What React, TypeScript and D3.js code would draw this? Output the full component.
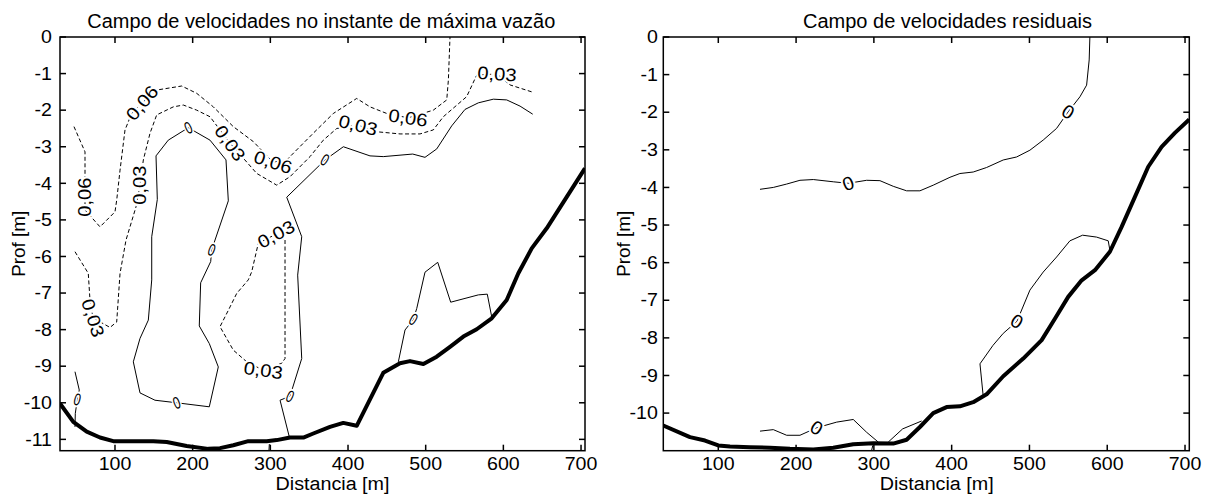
import React from 'react';
import * as d3 from 'd3';

type P = [number, number];
interface Label { text: string; x: number; y: number; angle: number }

// ---------- shared ticks / texts ----------
const xTickValues = [100, 200, 300, 400, 500, 600, 700];
const leftYTicks = [0, -1, -2, -3, -4, -5, -6, -7, -8, -9, -10, -11];
const rightYTicks = [0, -1, -2, -3, -4, -5, -6, -7, -8, -9, -10];
const leftTitle = 'Campo de velocidades no instante de máxima vazão';
const rightTitle = 'Campo de velocidades residuais';
const xLabel = 'Distancia [m]';
const yLabel = 'Prof [m]';

// ---------- left panel: max discharge ----------
const leftBed: P[] = [
  [29.2, -10.02], [46.3, -10.52], [63.6, -10.79], [80.7, -10.95], [97.8, -11.05], [149.3, -11.05],
  [166.6, -11.07], [192.3, -11.18], [220.1, -11.26], [235.2, -11.24], [252.3, -11.16], [271.6, -11.05],
  [295.3, -11.05], [308.2, -11.02], [325.3, -10.95], [342.5, -10.95], [355.3, -10.84], [376.8, -10.66],
  [393.9, -10.55], [411.2, -10.63], [445.4, -9.18], [466.9, -8.92], [479.8, -8.86], [497, -8.94],
  [514.2, -8.74], [531.3, -8.47], [548.5, -8.19], [565.7, -7.99], [585, -7.69], [604.3, -7.19],
  [619.3, -6.46], [636.5, -5.78], [655.8, -5.23], [705, -3.59],
];
const leftZeroIsland: P[] = [
  [194.4, -2.48], [168.6, -2.82], [152.8, -3.25], [154.5, -4.44], [147.3, -5.46], [147.3, -6.64],
  [142.9, -7.74], [132.2, -8.24], [123.6, -8.88], [132.2, -9.73], [151.5, -9.93], [179.5, -10.0],
  [221.4, -10.11], [233.0, -9.02], [221.4, -8.38], [208.5, -7.9], [210.3, -6.72], [223.2, -6.14],
  [224.5, -5.82], [245.9, -4.48], [242.9, -3.36], [222.3, -2.82], [194.4, -2.48],
];
const leftZeroTop: P[] = [
  [637.8, -2.11], [621.5, -1.89], [604.3, -1.72], [587.1, -1.7], [567.8, -1.8], [550.6, -1.98],
  [533.5, -2.43], [514.2, -3.06], [499.1, -3.29], [483.3, -3.2], [445.4, -3.27], [428.3, -3.25],
  [394.0, -3.0], [370.4, -3.36], [321.1, -4.38], [340.4, -5.46], [335.2, -6.51], [340.4, -8.79],
  [325.3, -9.82], [312.5, -9.93], [324.4, -10.93],
];
const leftZeroLeft: P[] = [[48.5, -9.15], [54.0, -9.65], [51.5, -9.91], [48.9, -10.29], [48.5, -10.66]];
const leftZeroRight: P[] = [
  [464.8, -8.88], [473.4, -8.01], [484.1, -7.72], [488.5, -7.42], [499.1, -6.43], [515.5, -6.16],
  [532.2, -7.25], [567.8, -7.05], [579.3, -7.03], [585.0, -7.65],
];
const leftZeroBottom: P[] = [[298.7, -11.13], [298.2, -11.31]];
const leftC06: P[] = [
  [47.2, -2.45], [61.4, -3.14], [61.4, -3.91], [61.4, -4.73], [80.7, -5.19], [100.0, -4.78],
  [102.2, -4.46], [106.5, -3.64], [112.9, -2.54], [121.5, -2.09], [134.8, -1.8], [153.7, -1.45],
  [185.9, -1.34], [205.2, -1.54], [226.6, -1.91], [252.3, -2.45], [278.1, -2.86], [303.4, -3.42],
  [321.1, -3.36], [355.3, -2.63], [381.1, -2.09], [411.2, -1.68], [428.3, -1.91], [449.8, -2.09],
  [477.2, -2.21], [509.8, -2.0], [527.1, -1.72], [529.2, -1.18], [531.3, 0],
];
const leftC03Long: P[] = [
  [48.5, -5.87], [65.6, -6.46], [67.8, -7.19], [71.7, -7.68], [93.6, -7.94], [102.2, -7.79],
  [106.5, -6.46], [114.2, -5.55], [127.1, -4.64], [132.2, -4.05], [136.5, -3.36], [145.1, -2.63],
  [153.7, -2.13], [175.1, -1.91], [188.0, -1.86], [205.2, -2.0], [222.3, -2.18], [248.1, -2.9],
  [282.5, -3.73], [308.2, -4.05], [325.3, -3.82], [351.1, -3.27], [368.2, -2.82], [385.5, -2.5],
  [412.9, -2.41], [436.9, -2.59], [467.0, -2.65], [492.7, -2.65], [509.8, -2.54], [522.7, -2.18],
  [552.8, -1.63], [565.7, -1.04], [591.8, -1.01], [608.6, -1.31], [636.5, -1.5],
];
const leftC03Loop: P[] = [
  [318.9, -5.55], [318.9, -8.79], [314.6, -8.92], [290.9, -9.11], [269.6, -8.88], [252.3, -8.56],
  [235.2, -7.92], [248.1, -7.38], [256.7, -7.01], [271.6, -6.64], [276.0, -6.42], [284.5, -5.64],
  [307.3, -5.39], [318.9, -5.55],
];
const leftValueLabels: Label[] = [
  { text: '0,06', x: 61.4, y: -4.38, angle: -90 },
  { text: '0,06', x: 134.8, y: -1.8, angle: -50 },
  { text: '0,06', x: 303.4, y: -3.42, angle: 18 },
  { text: '0,06', x: 477.2, y: -2.21, angle: 8 },
  { text: '0,03', x: 71.7, y: -7.68, angle: 72 },
  { text: '0,03', x: 132.2, y: -4.05, angle: -90 },
  { text: '0,03', x: 248.1, y: -2.9, angle: 55 },
  { text: '0,03', x: 412.9, y: -2.41, angle: 14 },
  { text: '0,03', x: 591.8, y: -1.01, angle: 4 },
  { text: '0,03', x: 307.3, y: -5.39, angle: -28 },
  { text: '0,03', x: 290.9, y: -9.11, angle: 8 },
];
const leftZeroLabels: Label[] = [
  { text: '0', x: 194.4, y: -2.48, angle: -25 },
  { text: '0', x: 179.5, y: -10.0, angle: -20 },
  { text: '0', x: 224.5, y: -5.82, angle: 20 },
  { text: '0', x: 370.4, y: -3.36, angle: 30 },
  { text: '0', x: 325.3, y: -9.82, angle: 25 },
  { text: '0', x: 51.5, y: -9.91, angle: 15 },
  { text: '0', x: 484.1, y: -7.72, angle: 30 },
];

// ---------- right panel: residual ----------
const rightBed: P[] = [
  [29.3, -10.33], [63.6, -10.64], [82.9, -10.73], [100.0, -10.86], [115.0, -10.89], [140.7, -10.91],
  [166.4, -10.92], [192.1, -10.95], [222.1, -10.97], [247.8, -10.92], [273.5, -10.83], [299.2, -10.8],
  [324.9, -10.81], [342.1, -10.71], [359.2, -10.37], [376.3, -10.0], [393.5, -9.84], [410.6, -9.82],
  [427.7, -9.71], [444.9, -9.5], [466.3, -9.02], [492.0, -8.55], [515.7, -8.06], [532.7, -7.49],
  [549.8, -6.91], [567.1, -6.47], [584.2, -6.2], [603.4, -5.71], [618.5, -5.05], [635.6, -4.25],
  [652.7, -3.45], [669.9, -2.92], [687.0, -2.55], [705.4, -2.19],
];
const rightZeroUpper: P[] = [
  [153.6, -4.05], [170.7, -4.0], [187.9, -3.91], [205.0, -3.81], [222.1, -3.79], [247.8, -3.85],
  [267.1, -3.89], [290.7, -3.81], [307.8, -3.82], [324.9, -3.97], [342.1, -4.09], [359.2, -4.09],
  [376.3, -3.94], [397.8, -3.73], [410.6, -3.63], [427.7, -3.59], [444.9, -3.47], [466.3, -3.27],
  [483.5, -3.19], [500.6, -3.01], [517.7, -2.74], [534.9, -2.43], [549.8, -1.99], [564.9, -1.59],
  [573.5, -1.28], [576.8, -0.61], [577.7, 0],
];
const rightZeroSlope: P[] = [
  [440.6, -9.56], [436.4, -8.69], [453.1, -8.2], [466.3, -7.88], [483.9, -7.56], [500.6, -6.73],
  [517.7, -6.25], [534.9, -5.85], [552.0, -5.42], [568.3, -5.27], [586.3, -5.32], [601.3, -5.42],
  [603.4, -5.67],
];
const rightZeroBottom: P[] = [
  [153.6, -10.48], [170.7, -10.44], [187.9, -10.59], [205.0, -10.59], [226.5, -10.39], [252.2, -10.24],
  [273.5, -10.17], [290.7, -10.51], [305.6, -10.77],
];
const rightZeroBottom2: P[] = [[318.5, -10.77], [337.0, -10.42], [361.4, -10.21]];
const rightZeroBottom3: P[] = [[298.6, -10.86], [297.0, -11.0]];
const rightZeroLabels: Label[] = [
  { text: '0', x: 267.1, y: -3.89, angle: -20 },
  { text: '0', x: 549.8, y: -1.99, angle: 30 },
  { text: '0', x: 483.9, y: -7.56, angle: 30 },
  { text: '0', x: 226.5, y: -10.39, angle: 30 },
];

const FONT = "'Liberation Sans', Arial, Helvetica, sans-serif";

interface PanelProps {
  id: string;
  x0: number; x1: number; y0: number; y1: number;
  xDomain: [number, number]; yDomain: [number, number];
  yTicks: number[]; yTickGap: number;
  solid: P[][]; dashed: P[][]; bed: P[];
  valueLabels: Label[]; zeroLabels: Label[]; zeroSx: number; zeroSize: number;
  title: string; titleX: number; titleW: number;
  xlabX: number; xlabW: number; ylabX: number;
}

function Panel(p: PanelProps) {
  const x = d3.scaleLinear().domain(p.xDomain).range([p.x0, p.x1]);
  const y = d3.scaleLinear().domain(p.yDomain).range([p.y1, p.y0]);
  const line = d3.line<P>().x(d => x(d[0])).y(d => y(d[1]));
  const tl = 6;
  const sx = 1.12;
  return (
    <g>
      <defs>
        <clipPath id={p.id}>
          <rect x={p.x0} y={p.y0} width={p.x1 - p.x0} height={p.y1 - p.y0} />
        </clipPath>
      </defs>
      <g clipPath={`url(#${p.id})`}>
        {p.solid.map((c, i) => (
          <path key={'s' + i} d={line(c) || ''} fill="none" stroke="#000" strokeWidth={1} />
        ))}
        {p.dashed.map((c, i) => (
          <path key={'d' + i} d={line(c) || ''} fill="none" stroke="#000" strokeWidth={1} strokeDasharray="4,2.5" />
        ))}
        <path d={line(p.bed) || ''} fill="none" stroke="#000" strokeWidth={4} strokeLinejoin="round" />
        {p.valueLabels.map((l, i) => (
          <g key={'v' + i} transform={`translate(${x(l.x)},${y(l.y)}) rotate(${l.angle}) scale(${sx},1)`}>
            <text textAnchor="middle" dy="0.35em" fontSize={18} fontFamily={FONT}
              stroke="#fff" strokeWidth={4} strokeLinejoin="round" paintOrder="stroke" fill="#000">{l.text}</text>
          </g>
        ))}
        {p.zeroLabels.map((l, i) => (
          <g key={'z' + i} transform={`translate(${x(l.x)},${y(l.y)}) rotate(${l.angle}) scale(${p.zeroSx},1)`}>
            <text textAnchor="middle" dy="0.35em" fontSize={p.zeroSize} fontFamily={FONT}
              stroke="#fff" strokeWidth={4} strokeLinejoin="round" paintOrder="stroke" fill="#000">{l.text}</text>
          </g>
        ))}
      </g>
      <rect x={p.x0} y={p.y0} width={p.x1 - p.x0} height={p.y1 - p.y0} fill="none" stroke="#000" strokeWidth={1.5} />
      {xTickValues.map(v => (
        <g key={'xt' + v}>
          <line x1={x(v)} x2={x(v)} y1={p.y1} y2={p.y1 - tl} stroke="#000" strokeWidth={1.5} />
          <line x1={x(v)} x2={x(v)} y1={p.y0} y2={p.y0 + tl} stroke="#000" strokeWidth={1.5} />
          <g transform={`translate(${x(v)},${469.5}) scale(${sx},1)`}>
            <text textAnchor="middle" fontSize={17.5} fontFamily={FONT} fill="#000">{v}</text>
          </g>
        </g>
      ))}
      {p.yTicks.map(v => (
        <g key={'yt' + v}>
          <line x1={p.x0} x2={p.x0 + tl} y1={y(v)} y2={y(v)} stroke="#000" strokeWidth={1.5} />
          <line x1={p.x1} x2={p.x1 - tl} y1={y(v)} y2={y(v)} stroke="#000" strokeWidth={1.5} />
          <g transform={`translate(${p.x0 - p.yTickGap},${y(v) + 6.2}) scale(${sx},1)`}>
            <text textAnchor="end" fontSize={17.5} fontFamily={FONT} fill="#000">{v}</text>
          </g>
        </g>
      ))}
      <text x={p.titleX} y={28} fontSize={20} fontFamily={FONT} textLength={p.titleW}
        lengthAdjust="spacingAndGlyphs" fill="#000">{p.title}</text>
      <text x={p.xlabX} y={490} fontSize={18} fontFamily={FONT} textLength={p.xlabW}
        lengthAdjust="spacingAndGlyphs" fill="#000">{xLabel}</text>
      <g transform={`translate(${p.ylabX},${(p.y0 + p.y1) / 2 + 33}) rotate(-90)`}>
        <text x={0} y={0} fontSize={19} fontFamily={FONT} textLength={66}
          lengthAdjust="spacingAndGlyphs" fill="#000">{yLabel}</text>
      </g>
    </g>
  );
}

export default function App() {
  return (
    <div style={{ position: 'absolute', left: 0, top: 0, width: 1219, height: 499, background: '#fff' }}>
      <svg width={1219} height={499} viewBox="0 0 1219 499" style={{ display: 'block' }}>
        <rect x={0} y={0} width={1219} height={499} fill="#fff" />
        <Panel
          id="clipL" x0={60} x1={585} y0={37} y1={450.7}
          xDomain={[29.2, 705.1]} yDomain={[-11.31, 0]}
          yTicks={leftYTicks} yTickGap={8}
          solid={[leftZeroIsland, leftZeroTop, leftZeroLeft, leftZeroRight, leftZeroBottom]}
          dashed={[leftC06, leftC03Long, leftC03Loop]}
          bed={leftBed}
          valueLabels={leftValueLabels} zeroLabels={leftZeroLabels} zeroSx={0.72} zeroSize={17}
          title={leftTitle} titleX={87.3} titleW={468}
          xlabX={275.5} xlabW={114} ylabX={25}
        />
        <Panel
          id="clipR" x0={663.3} x1={1189.3} y0={37} y1={450.7}
          xDomain={[29.3, 705.5]} yDomain={[-11.0, 0]}
          yTicks={rightYTicks} yTickGap={5.5}
          solid={[rightZeroUpper, rightZeroSlope, rightZeroBottom, rightZeroBottom2, rightZeroBottom3]}
          dashed={[]}
          bed={rightBed}
          valueLabels={[]} zeroLabels={rightZeroLabels} zeroSx={1.05} zeroSize={19}
          title={rightTitle} titleX={803} titleW={289}
          xlabX={879.7} xlabW={114} ylabX={630}
        />
      </svg>
    </div>
  );
}
